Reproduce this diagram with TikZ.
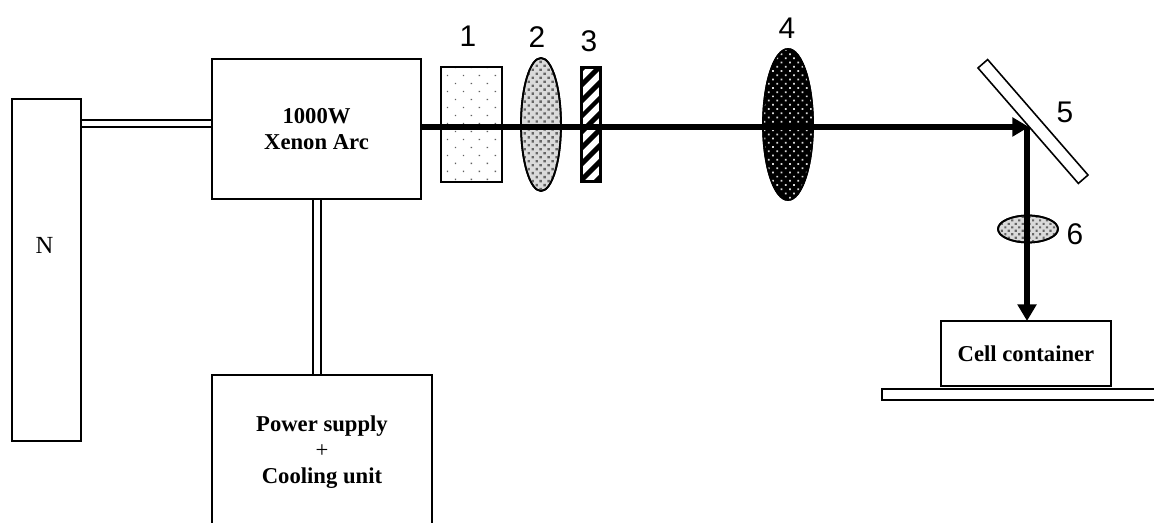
\documentclass[tikz,border=0pt]{standalone}
\usepackage{fontspec}
\usepackage{xcolor}
\usepackage{tikz}
\usetikzlibrary{arrows.meta,calc,shapes.geometric,patterns.meta}
\setmainfont{Liberation Serif}
\newfontfamily\numfont{Liberation Sans}
\definecolor{lenspale}{HTML}{DADADA}
\definecolor{dotgray}{HTML}{606060}
\definecolor{lensdot}{HTML}{666666}
\tikzset{
  unitbox/.style={draw,line width=1.1pt,fill=white,inner sep=0pt,align=center,font=\fontsize{12.9}{15}\selectfont\bfseries},
  pipe/.style={line width=1.1pt,double=white,double distance=3.2pt},
  beam/.style={line width=2.9pt,-{Triangle[length=9.5pt,width=10.5pt]}},
  numlabel/.style={font=\fontsize{17}{17}\selectfont\numfont,inner sep=0pt},
  lens/.style={draw,ellipse,line width=1pt,inner sep=0pt}
}
\begin{document}
\begin{tikzpicture}[x=0.02cm,y=-0.02cm]
  \useasboundingbox (0,0) rectangle (1154,523);
  \clip (0,0) rectangle (1154,523);
  % lamp side
  \node[unitbox,minimum width=69*0.02cm,minimum height=342*0.02cm] (nbox) at (46.5,270) {};
  \node[font=\fontsize{14}{14}\selectfont,inner sep=0pt] (nlabel) at (44.5,245) {N};
  \node[unitbox,minimum width=209*0.02cm,minimum height=140*0.02cm] (xenon) at (316.5,129) {1000W\\Xenon Arc};
  \node[unitbox,minimum width=220*0.02cm,minimum height=154*0.02cm] (power) at (322,452) {Power supply\\{\normalfont +}\\Cooling unit};
  \coordinate (gasin) at ($(xenon.west)+(0,-5.5)$);
  \coordinate (coolout) at ($(xenon.south)+(0.5,0)$);
  \draw[pipe] (gasin -| nbox.east) -- (gasin);
  \draw[pipe] (coolout) -- (coolout |- power.north);
  % optics
  \node[draw,line width=1.1pt,pattern={Dots[radius=0.55pt,distance=11.3*0.02cm,angle=45]},pattern color=dotgray,minimum width=61*0.02cm,minimum height=115*0.02cm,inner sep=0pt] (filter) at (471.5,124.5) {};
  \node[lens,fill=lenspale,minimum width=40*0.02cm,minimum height=133*0.02cm] (lenstwo) at (541,124.5) {};
  \node[lens,pattern={Dots[radius=0.95pt,distance=3.2pt,angle=45]},pattern color=lensdot,minimum width=40*0.02cm,minimum height=133*0.02cm] at (541,124.5) {};
  \node[draw,line width=1.5pt,fill=white,minimum width=19*0.02cm,minimum height=114*0.02cm,inner sep=0pt] (stripe) at (591,124.5) {};
  \node[draw,line width=1.5pt,pattern={Lines[angle=45,distance=6.4pt,line width=2.9pt]},minimum width=19*0.02cm,minimum height=114*0.02cm,inner sep=0pt] at (591,124.5) {};
  \node[lens,fill=black,minimum width=50*0.02cm,minimum height=151*0.02cm] (lensfour) at (788,124.5) {};
  \node[lens,pattern={Dots[radius=0.7pt,distance=3.4pt,angle=45]},pattern color=white!85!black,minimum width=50*0.02cm,minimum height=151*0.02cm] at (788,124.5) {};
  \node[draw,line width=0.9pt,fill=white,minimum width=12.8*0.02cm,minimum height=153*0.02cm,inner sep=0pt,rotate=41] (mirror) at (1033,121.5) {};
  \coordinate (hit) at (1029,127);
  \node[unitbox,minimum width=170*0.02cm,minimum height=65*0.02cm] (cell) at (1026,353.5) {Cell container};
  \node[draw,line width=1pt,fill=white,minimum width=290*0.02cm,minimum height=11*0.02cm,inner sep=0pt] (shelf) at (1027,394.5) {};
  \node[lens,fill=lenspale,minimum width=60*0.02cm,minimum height=27*0.02cm] (lenssix) at (1028,229) {};
  \node[lens,pattern={Dots[radius=0.85pt,distance=2.8pt,angle=45]},pattern color=lensdot,minimum width=60*0.02cm,minimum height=27*0.02cm] at (1028,229) {};
  % light path
  \draw[beam] (xenon.east |- hit) -- (hit);
  \draw[beam] (hit -| cell.north) ++(1,0) -- (1027,321);
  % numbers
  \node[numlabel] (numone) at (468,36) {1};
  \node[numlabel] (numtwo) at (537,37) {2};
  \node[numlabel] (numthree) at (589,41) {3};
  \node[numlabel] (numfour) at (787,28) {4};
  \node[numlabel] (numfive) at (1065,112) {5};
  \node[numlabel] (numsix) at (1075,234) {6};
\end{tikzpicture}
\end{document}
